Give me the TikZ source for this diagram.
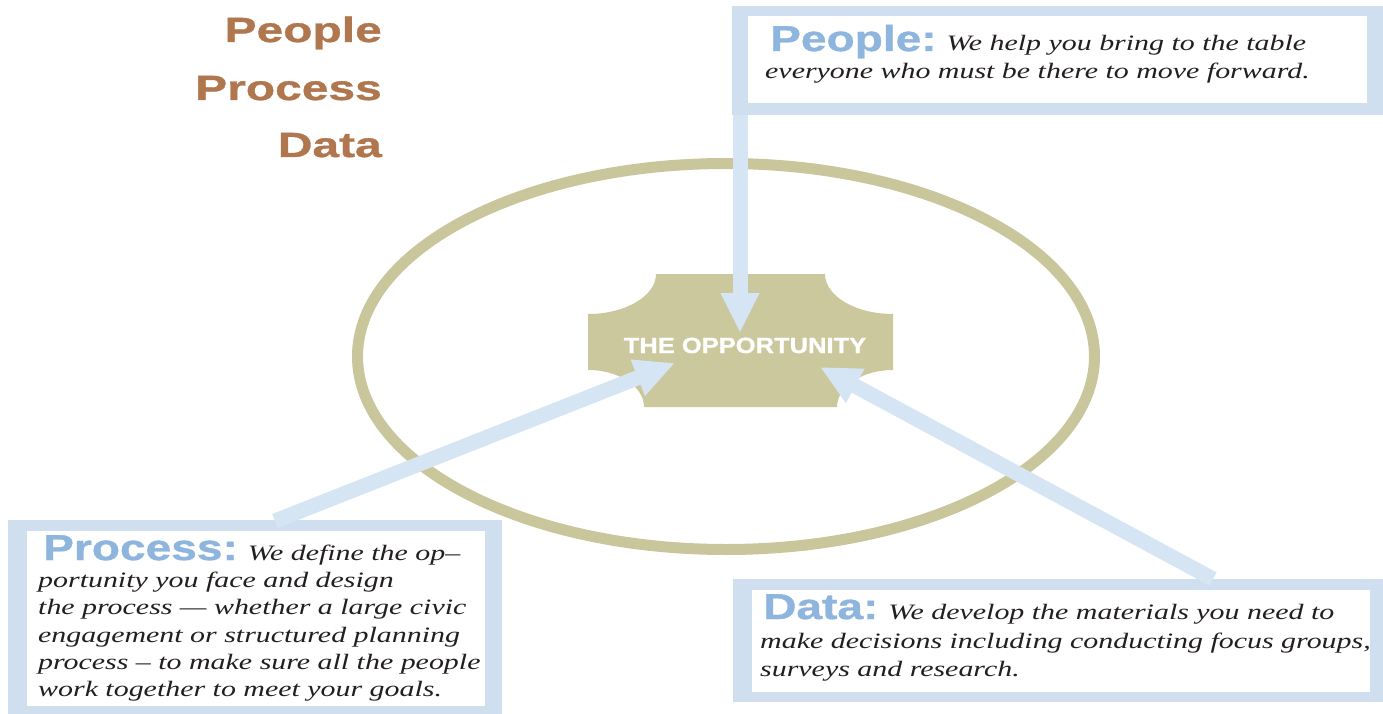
\documentclass[tikz,border=0pt]{standalone}
\usepackage{fontspec}
\usetikzlibrary{arrows.meta}
\newfontfamily\titlefont{Liberation Sans}[FakeStretch=1.37,FakeBold=1]
\newfontfamily\hdrfont{Liberation Sans}[FakeStretch=1.28,FakeBold=1]
\newfontfamily\oppfont{Liberation Sans}[FakeStretch=1.16,FakeBold=1]
\newfontfamily\bodyfont{Liberation Serif}[FakeStretch=1.36]
\definecolor{ringc}{RGB}{201,198,155}
\definecolor{shapec}{RGB}{203,200,157}
\definecolor{boxc}{RGB}{207,223,240}
\definecolor{arrowc}{RGB}{214,229,244}
\definecolor{hdrc}{RGB}{141,181,222}
\definecolor{brownc}{RGB}{176,118,78}
\definecolor{bodyc}{RGB}{35,31,32}
\newcommand{\hdr}[1]{{\hdrfont\upshape\bfseries\fontsize{36}{40}\selectfont\color{hdrc}#1}}
\newcommand{\bodytxt}{\bodyfont\itshape\fontsize{22}{27}\selectfont\color{bodyc}}
\begin{document}
\begin{tikzpicture}[x=1pt,y=-1pt,
  titletext/.style={inner sep=0pt,anchor=base east,text=brownc,font=\titlefont\bfseries\fontsize{35}{40}\selectfont},
  boxo/.style={fill=boxc,inner sep=0pt,anchor=north west,draw=none},
  boxi/.style={fill=white,inner sep=0pt,anchor=north west,draw=none},
  line/.style={inner sep=0pt,anchor=base west,font=\bodytxt},
  arr/.style={draw=arrowc,line width=15pt,-{Triangle[width=36pt,length=40pt]}}]
\useasboundingbox (0,0) rectangle (1383,714);
\fill[white] (0,0) rectangle (1383,714);
% title
\node[titletext] (t1) at (382,42) {People};
\node[titletext] (t2) at (382,100) {Process};
\node[titletext] (t3) at (382,157) {Data};
% ring
\draw[ringc,line width=11pt] (726,356.5) ellipse [x radius=368.5, y radius=193];
% opportunity shape
\fill[shapec] (588,314) .. controls (625.5,314) and (656,296) .. (656,274)
  -- (825,274) .. controls (825,296) and (855.5,314) .. (893,314)
  -- (893,370) .. controls (862,370) and (837,386.6) .. (837,407)
  -- (644,407) .. controls (644,386.6) and (619,370) .. (588,370) -- cycle;
\node[inner sep=0pt,anchor=base,text=white,font=\oppfont\bfseries\fontsize{22}{26}\selectfont] (opp) at (745,353) {THE OPPORTUNITY};
% boxes
\node[boxo,minimum width=651pt,minimum height=109pt] (peopleO) at (732,6) {};
\node[boxi,minimum width=619pt,minimum height=87pt] (peopleI) at (748,16) {};
\node[boxo,minimum width=494pt,minimum height=194pt] (procO) at (8,520) {};
\node[boxi,minimum width=458pt,minimum height=175pt] (procI) at (27,531) {};
\node[boxo,minimum width=650pt,minimum height=123pt] (dataO) at (733,579) {};
\node[boxi,minimum width=618pt,minimum height=102pt] (dataI) at (752,590) {};
% people text
\node[line] (pe1) at (770,51) {\hdr{People:}\hspace{10pt}We help you bring to the table};
\node[line] (pe2) at (765,79) {everyone who must be there to move forward.};
% process text
\node[line] (pr1) at (43,560) {\hdr{Process:}\hspace{10pt}We define the op–};
\node[line] (pr2) at (38,587) {portunity you face and design};
\node[line] (pr3) at (38,614.5) {the process — whether a large civic};
\node[line] (pr4) at (38,642) {engagement or structured planning};
\node[line] (pr5) at (38,669) {process – to make sure all the people};
\node[line] (pr6) at (38,696) {work together to meet your goals.};
% data text
\node[line] (da1) at (763,619) {\hdr{Data:}\hspace{10pt}We develop the materials you need to};
\node[line] (da2) at (760,648) {make decisions including conducting focus groups,};
\node[line] (da3) at (760,676) {surveys and research.};
% arrows
\coordinate (sPe) at (740,115);
\coordinate (tPe) at (740,333);
\coordinate (sPr) at (275,521);
\coordinate (tPr) at (675,363);
\coordinate (sDa) at (1213,579);
\coordinate (tDa) at (820,367);
\draw[arr] (sPe) -- (tPe);
\draw[arr] (sPr) -- (tPr);
\draw[arr] (sDa) -- (tDa);
\end{tikzpicture}
\end{document}
